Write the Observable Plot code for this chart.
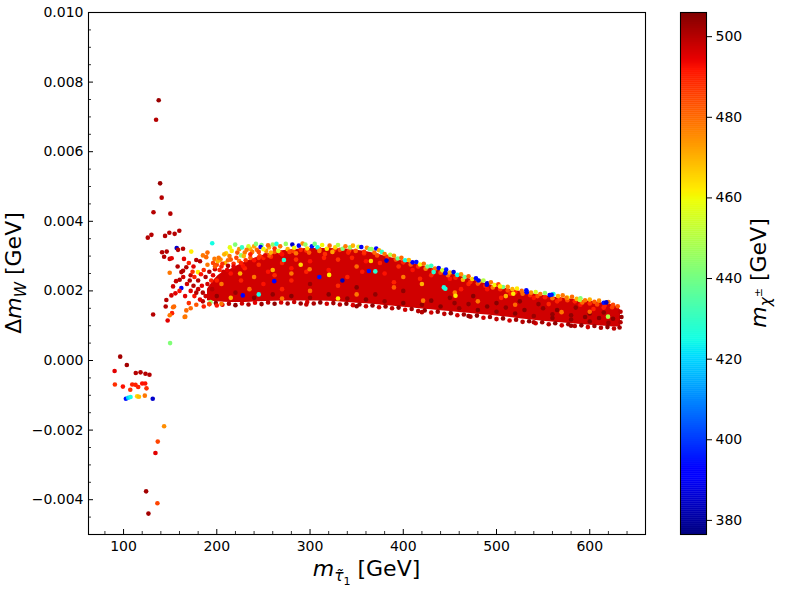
<!DOCTYPE html>
<html>
<head>
<meta charset="utf-8">
<script src="https://cdn.jsdelivr.net/npm/d3@7"></script>
<script src="https://cdn.jsdelivr.net/npm/@observablehq/plot@0.6"></script>
<style>
  html, body { margin: 0; padding: 0; background: white; }
  #wrap { position: relative; width: 800px; height: 600px; overflow: hidden; font-family: "DejaVu Sans", sans-serif; }
  #main { position: absolute; left: 0; top: 0; }
  #cbar { position: absolute; left: 660px; top: 0; }
</style>
</head>
<body>
<div id="wrap"><div id="main"></div><div id="cbar"></div></div>
<script>
// ---- data: [m_stau1 (GeV), Δm_W (1e-3 GeV), m_chi± (GeV)] ----
const leftScatter = [
  [137.7,7.48,503],[134.9,6.92,500],[139.2,5.09,503],[140.9,4.68,500],[132.1,4.26,500],[150.2,4.22,500],
  [126.0,3.53,500],[129.9,3.61,500],[144.5,3.58,500],[149.1,3.67,500],[154.8,3.64,500],[159.8,3.73,500],
  [157.0,3.23,385],[158.4,3.18,500],[163.8,3.21,500],[141.3,3.11,500],[146.3,3.13,500],[143.5,2.98,500],
  [149.5,2.92,497],[151.6,2.94,495],[172.6,3.13,462],[164.8,2.92,495],[149.5,2.52,478],[163.8,2.58,500],
  [160.2,2.32,500],[156.3,2.28,498],[162.0,2.08,390],[153.1,2.13,497],[155.6,1.93,495],[151.3,1.87,497],
  [145.9,1.74,500],[145.2,1.55,500],[154.2,1.55,480],[152.0,1.36,490],[149.5,1.30,478],[131.7,1.32,500],
  [147.3,1.15,495],[166.2,1.26,478],[149.9,0.50,442],
  [185.1,3.02,478],[188.7,2.97,480],[197.5,2.92,478],[213.6,3.00,478],[226.1,3.02,445],[195.1,3.37,425],
  [219.7,3.33,442],[178.0,2.89,500],[182.0,2.85,500],[167.3,2.68,500],[162.0,2.54,500],[179.8,2.54,462],
  [172.0,2.45,498],[193.3,1.68,445],[153.1,1.53,480],[167.3,1.44,480],[165.5,1.25,478],
  [170,2.80,490],[175,2.70,495],[168,2.20,497],[172,2.00,495],[176,1.85,492],[170,1.65,488],[178,1.60,483],
  [182,1.75,495],[185,1.95,500],[180,2.30,500],[186,2.60,488],[190,2.75,478],[175,2.15,500],[166,1.85,495],
  [172,1.50,480],[186,1.55,490],[192,1.62,485],[200,1.58,492],[205,1.63,478],[196,2.45,495],[200,2.75,485],
  [204,2.90,475],[209,2.80,470],[215,2.90,482],[230,3.10,478],[236,3.20,470],[190,2.20,497],[195,2.05,500],
  [180,2.05,498],[188,2.40,500],[184,2.15,495],[178,1.95,500],[183,2.48,492],[192,2.55,500],[194,2.30,490],
  [198,2.62,497],[205,2.70,490],[211,2.60,495],[218,2.78,488],[224,2.86,478],[228,2.72,492],[176,2.40,490],
  [171,2.30,500],[188,1.85,497],[160,2.00,492],[164,2.40,497],[158,2.70,500],[174,2.55,488],[201,2.85,470],
  [222,3.10,482],[210,3.08,465],[190,3.10,480],
  [198,2.70,482],[202,2.95,478],[206,2.78,488],[208,3.05,470],[212,2.88,480],[216,3.15,462],[218,2.70,495],
  [221,2.95,485],[224,3.20,475],[226,2.80,490],[229,3.00,470],[231,2.88,488],[234,3.28,455],[236,2.95,482],
  [238,3.12,478],[240,2.88,492],[243,3.18,480],[246,3.00,485],[248,3.32,440],[250,2.95,490],[253,3.15,475],
  [256,3.25,470],[258,2.98,488],[262,3.12,482],[212,2.72,500],[207,2.55,497],[203,2.60,490],[196,2.80,485],
  [214,3.25,458],[227,3.25,430]
];
const negScatter = [
  [96.4,0.11,502],[103.5,-0.13,502],[90.4,-0.30,495],[113.1,-0.36,500],[118.2,-0.34,500],[123.5,-0.38,500],
  [127.8,-0.41,500],[90.7,-0.69,488],[99.3,-0.75,492],[109.3,-0.69,490],[112.8,-0.70,490],[115.7,-0.76,490],
  [120.0,-0.66,492],[123.2,-0.66,492],[107.2,-0.84,488],[124.6,-0.80,488],[102.5,-1.10,395],[105.0,-1.07,420],
  [107.5,-1.05,425],[114.6,-1.03,465],[116.5,-1.04,468],[122.8,-1.01,478],[131.3,-1.10,385],[143.5,-1.89,475],
  [136.7,-2.33,485],[134.2,-2.66,495],[124.2,-3.76,502],[136.3,-4.10,485],[126.7,-4.40,502]
];
// dense band outline: m_stau1, lower and upper Δm_W (1e-3 GeV)
const bandX    = [190,200,215,230,245,260,280,300,320,340,360,380,400,420,440,460,480,500,525,550,575,600,620,630,633];
const bandLow  = [1.72,1.69,1.67,1.67,1.69,1.70,1.71,1.71,1.70,1.67,1.63,1.58,1.53,1.48,1.43,1.38,1.33,1.28,1.20,1.13,1.07,1.01,0.98,0.96,0.98];
const bandHigh = [2.05,2.40,2.62,2.82,2.98,3.10,3.18,3.22,3.22,3.20,3.13,3.00,2.85,2.72,2.58,2.43,2.28,2.13,1.99,1.87,1.78,1.70,1.62,1.54,1.45];
const bandBottom = [
  [185,1.70,500],[192,1.62,497],[199,1.65,503],[206,1.60,495],[213,1.63,500],[220,1.59,504],[227,1.64,497],
  [234,1.61,501],[241,1.66,495],[248,1.62,503],[255,1.67,499],[262,1.63,504],[269,1.67,496],[276,1.64,502],
  [283,1.68,498],[290,1.64,503],[297,1.68,496],[304,1.64,501],[311,1.67,504],[318,1.63,497],[325,1.65,502],
  [332,1.61,499],[339,1.63,504],[346,1.59,496],[353,1.61,502],[360,1.56,498],[367,1.58,504],[374,1.53,497],
  [381,1.55,502],[388,1.50,499],[395,1.52,504],[402,1.46,497],[409,1.48,502],[416,1.42,500],[423,1.44,504],
  [430,1.38,497],[437,1.40,502],[444,1.34,499],[451,1.36,504],[458,1.30,497],[465,1.32,502],[472,1.26,500],
  [479,1.29,504],[486,1.23,497],[493,1.25,502],[500,1.19,499],[507,1.21,504],[514,1.15,497],[521,1.17,502],
  [528,1.11,500],[535,1.13,504],[542,1.07,497],[549,1.10,502],[556,1.04,500],[563,1.07,504],[570,1.01,497],
  [577,1.04,502],[584,0.99,500],[591,1.01,504],[598,0.96,497],[605,0.99,502],[612,0.94,500],[619,0.96,504],
  [626,0.92,499],[632,0.95,502],[633,1.10,500],[634,1.25,503],[633,1.40,499],[296,1.61,498],[350,1.56,503],
  [420,1.39,500],[470,1.28,503],[540,1.10,500],[580,1.00,503]
];
const bandTop = [
  [232,3.18,478],[236,3.05,490],[240,3.28,472],[242,3.35,442],[245,3.12,485],[247,3.26,390],[250,3.20,460],
  [252,3.02,495],[255,3.31,480],[258,3.10,470],[260,3.33,445],[262,3.22,488],[264,3.35,425],[266,3.15,455],
  [268,3.28,478],[270,3.05,492],[272,2.89,428],[274,3.35,445],[276,3.20,470],[278,3.12,485],[281,3.33,385],
  [283,3.24,460],[285,3.08,478],[288,3.30,390],[290,3.18,490],[292,3.36,475],[295,3.33,445],[297,3.22,465],
  [299,3.10,482],[302,3.28,395],[305,3.35,440],[308,3.25,425],[310,3.15,478],[313,3.32,460],[316,3.06,488],
  [318,3.21,462],[321,3.30,480],[324,3.12,472],[327,3.25,465],[330,3.32,450],[332,3.18,485],[335,3.21,442],
  [338,3.28,478],[341,3.10,490],[343,3.25,445],[346,3.30,470],[349,3.15,482],[352,3.27,455],[355,3.26,390],
  [358,3.12,488],[361,3.24,475],[364,3.20,440],[366,3.20,445],[369,3.10,480],[371,3.22,392],[374,3.17,470],
  [377,3.12,430],[380,3.06,478],[383,2.98,488],[386,3.04,450],
  [390,3.01,475],[394,2.93,440],[398,2.95,480],[402,2.88,425],[406,2.89,470],[410,2.82,390],[414,2.83,395],
  [418,2.76,460],[422,2.78,480],[426,2.70,440],[430,2.72,430],[434,2.64,478],[438,2.66,392],[442,2.59,455],
  [446,2.61,395],[450,2.53,470],[454,2.54,388],[458,2.46,425],[462,2.48,475],[466,2.40,440],[470,2.42,482],
  [474,2.34,465],[478,2.36,393],[482,2.28,470],[486,2.30,450],[490,2.22,387],[494,2.25,478],[498,2.17,460],
  [502,2.19,485],[507,2.11,440],[512,2.12,475],[517,2.05,470],[522,2.07,462],[527,2.00,480],[532,2.02,392],
  [537,1.95,475],[542,1.97,455],[547,1.91,478],[552,1.94,445],[557,1.88,392],[561,1.91,425],[566,1.85,470],
  [571,1.87,478],[576,1.81,460],[581,1.83,480],[586,1.77,470],[590,1.79,442],[595,1.73,478],[600,1.75,470],
  [605,1.69,482],[610,1.72,475],[615,1.66,395],[620,1.68,478],[625,1.60,485],[630,1.56,482]
];
const bandTopInner = [
  [392,2.90,485],[400,2.82,490],[408,2.76,482],[416,2.70,488],[424,2.64,478],[432,2.58,490],[440,2.52,485],
  [448,2.45,480],[456,2.38,490],[464,2.32,470],[472,2.26,488],[480,2.21,483],[488,2.15,490],[496,2.10,478],
  [504,2.05,488],[512,2.01,485],[520,1.96,490],[528,1.92,480],[536,1.88,488],[544,1.85,484],[552,1.82,490],
  [560,1.79,478],[568,1.76,488],[576,1.73,485],[584,1.70,490],[592,1.67,480],[600,1.64,488],[608,1.61,485],
  [616,1.58,490],[624,1.53,486],[245,2.95,488],[256,3.02,482],[268,3.10,490],[282,3.15,485],[296,3.16,488],
  [310,3.20,482],[326,3.18,490],[342,3.16,485],[358,3.08,490],[372,3.02,484]
];
const bandInterior = [
  [200,2.30,490],[215,2.50,492],[230,2.65,490],[245,2.75,488],[255,2.55,492],[270,2.80,490],[285,2.90,488],
  [300,2.85,492],[315,2.95,490],[330,2.90,488],[345,2.95,490],[360,2.85,492],[375,2.80,490],[395,2.70,488],
  [410,2.60,492],[430,2.45,490],[450,2.35,492],[470,2.20,490],[490,2.05,492],[515,1.92,490],[540,1.80,492],
  [565,1.70,490],[590,1.60,492],[615,1.52,490],[250,2.20,492],[280,2.30,490],[320,2.60,492],[340,2.40,490],
  [380,2.50,492],[280,2.65,492],[226,2.30,490],[262,2.45,489],[296,2.55,490],[356,2.55,491],[418,2.35,490],
  [462,2.05,491],[505,1.80,490],[556,1.62,489],[604,1.48,490],[270,2.05,490],[330,2.15,489],[390,2.25,490],
  [200,1.85,504],[220,1.95,503],[240,1.80,505],[260,1.90,504],[280,1.85,505],[300,1.80,503],[320,1.90,505],
  [340,1.78,504],[360,1.75,505],[380,1.70,503],[400,1.65,505],[420,1.60,504],[440,1.55,505],[460,1.50,503],
  [480,1.45,505],[500,1.40,504],[520,1.35,505],[540,1.28,503],[560,1.22,505],[580,1.18,504],[600,1.12,505],
  [620,1.08,503],[450,1.80,504],[500,1.65,505],[550,1.50,504],[600,1.35,505],[400,2.00,504],[350,2.10,505],
  [300,2.20,503],[430,1.72,505],[470,1.62,504],[530,1.45,505],[580,1.30,504],[610,1.22,505],[370,1.90,504],
  [490,1.55,505],[510,1.52,504],[525,1.70,505],[545,1.62,504],[565,1.45,505],[585,1.52,504],[595,1.25,505],
  [615,1.38,504],[625,1.20,505],[560,1.33,504],[475,1.85,505],[455,1.65,504]
];
const bandAccents = [
  [363.1,2.57,395],[370,2.56,428],[334.7,2.30,383],[320.5,2.46,462],[299.6,2.62,478],[365.3,2.86,465],
  [382,2.87,385],[432.6,2.54,428],[445.1,2.51,390],[480.7,2.30,390],[489.6,2.18,388],[503.8,2.13,462],
  [518.0,1.92,462],[532.4,1.96,392],[559.1,1.89,395],[575.1,1.80,478],[589.3,1.74,450],[617.8,1.67,385],
  [619.6,1.26,450],[569.8,1.39,478],[455.3,1.95,478],[421.3,1.72,478],[445.1,2.06,428],[443.5,2.10,425],
  [456,1.86,462],[261.6,2.28,392],[227.9,1.87,392],[245,1.90,425],[260,2.60,470],[280,2.50,478],[300,2.00,480],
  [310,2.40,395],[240,2.40,478],[225,2.50,470],[290,2.75,465],[350,2.70,480],[400,2.40,478],[390,2.10,482],
  [350,1.90,478],[330,1.78,462],[270,1.78,478],[215,1.80,470],[235,2.05,480],[205,2.20,478],[520,1.60,480],
  [480,1.70,478],[600,1.40,480],[420,2.20,470],[510,1.85,470]
];
const xTicks = [100,200,300,400,500,600];
const xMinor = [80,120,140,160,180,220,240,260,280,320,340,360,380,420,440,460,480,520,540,560,580,620,640];
const yTicks = [-0.004,-0.002,0.000,0.002,0.004,0.006,0.008,0.010];
const yMinor = [-0.0045,-0.0035,-0.003,-0.0025,-0.0015,-0.001,-0.0005,0.0005,0.001,0.0015,0.0025,0.003,0.0035,
                0.0045,0.005,0.0055,0.0065,0.007,0.0075,0.0085,0.009,0.0095];
const cTicks = [380,400,420,440,460,480,500];
const cDomain = [376.5, 506];

// matplotlib "jet" colormap
const jetR = [[0,0],[0.35,0],[0.66,1],[0.89,1],[1,0.5]];
const jetG = [[0,0],[0.125,0],[0.375,1],[0.64,1],[0.91,0],[1,0]];
const jetB = [[0,0.5],[0.11,1],[0.34,1],[0.65,0],[1,0]];
function seg(p, t) {
  for (let i = 1; i < p.length; i++) {
    if (t <= p[i][0]) { const [x0,y0] = p[i-1], [x1,y1] = p[i]; return y0 + (y1-y0)*(t-x0)/(x1-x0); }
  }
  return p[p.length-1][1];
}
function jet(t) {
  t = Math.max(0, Math.min(1, t));
  return `rgb(${Math.round(255*seg(jetR,t))},${Math.round(255*seg(jetG,t))},${Math.round(255*seg(jetB,t))})`;
}
const colorScale = {type: "linear", domain: cDomain, interpolate: jet};

const band = bandX.map((x, i) => ({x, lo: bandLow[i], hi: bandHigh[i]}));
const R = 2.3;
const dotOpts = {x: d => d[0], y: d => d[1] * 1e-3, fill: d => d[2], r: R};

const W = 660, H = 600, ML = 88, MR = 15, MT = 12, MB = 66;
const innerW = W - ML - MR, innerH = H - MT - MB;

const main = Plot.plot({
  width: W, height: H, marginLeft: ML, marginRight: MR, marginTop: MT, marginBottom: MB,
  x: {domain: [62.4, 659.8]},
  y: {domain: [-0.005, 0.010]},
  color: colorScale,
  style: {fontFamily: "DejaVu Sans", fontSize: "14px", background: "white", color: "black"},
  marks: [
    Plot.areaY(band, {x: "x", y1: d => d.lo * 1e-3, y2: d => d.hi * 1e-3, fill: 497, curve: "monotone-x"}),
    Plot.dot(bandInterior, dotOpts),
    Plot.dot(bandBottom, dotOpts),
    Plot.dot(leftScatter, dotOpts),
    Plot.dot(negScatter, dotOpts),
    Plot.dot(bandTopInner, dotOpts),
    Plot.dot(bandTop, dotOpts),
    Plot.dot(bandAccents, dotOpts),
    Plot.tickX(xTicks, {x: d => d, insetTop: innerH - 5, stroke: "black", strokeWidth: 1}),
    Plot.tickX(xMinor, {x: d => d, insetTop: innerH - 3, stroke: "black", strokeWidth: 0.8}),
    Plot.tickY(yTicks, {y: d => d, insetRight: innerW - 5, stroke: "black", strokeWidth: 1}),
    Plot.tickY(yMinor, {y: d => d, insetRight: innerW - 3, stroke: "black", strokeWidth: 0.8}),
    Plot.axisX({ticks: xTicks, tickSize: 0, tickPadding: 7, label: null, fontSize: 14}),
    Plot.axisY({ticks: yTicks, tickSize: 0, tickPadding: 5, label: null, fontSize: 14, tickFormat: d3.format(".3f")}),
    Plot.frame({stroke: "black", strokeWidth: 1.1})
  ]
});
document.getElementById("main").appendChild(main);

const slices = d3.range(cDomain[0], cDomain[1], 0.5);
const cbar = Plot.plot({
  width: 140, height: H, marginLeft: 20, marginRight: 94, marginTop: MT, marginBottom: MB,
  x: {domain: [0, 1], axis: null},
  y: {domain: cDomain},
  color: colorScale,
  style: {fontFamily: "DejaVu Sans", fontSize: "14px", background: "white", color: "black"},
  marks: [
    Plot.rect(slices, {x1: 0, x2: 1, y1: d => d, y2: d => Math.min(d + 0.6, cDomain[1]), fill: d => d + 0.25}),
    Plot.axisY({anchor: "right", ticks: cTicks, tickSize: 5, tickPadding: 4, label: null, fontSize: 14}),
    Plot.frame({stroke: "black", strokeWidth: 1.1})
  ]
});
document.getElementById("cbar").appendChild(cbar);

// axis titles with math formatting
const FS = 22;
function addText(svg, x, y, rotate, parts) {
  const t = d3.select(svg).append("text")
    .attr("transform", `translate(${x},${y})` + (rotate ? ` rotate(${rotate})` : ""))
    .attr("text-anchor", "middle")
    .attr("font-family", "DejaVu Sans")
    .attr("font-size", FS)
    .attr("fill", "black");
  let cur = 0;
  for (const p of parts) {
    const s = t.append("tspan").text(p.t);
    const shift = (p.dy || 0);
    s.attr("dy", (shift - cur) + "px");
    cur = shift;
    if (p.i) s.attr("font-style", "italic");
    if (p.s) s.attr("font-size", FS * p.s);
  }
}
addText(main, 21, MT + innerH / 2, -90, [
  {t: "Δ"}, {t: "m", i: true}, {t: "W", i: true, s: 0.7, dy: 5}, {t: " [GeV]", dy: 0}
]);
addText(main, ML + innerW / 2, 576, 0, [
  {t: "m", i: true}, {t: "τ̃", i: true, s: 0.7, dy: 5}, {t: "1", s: 0.5, dy: 9}, {t: " [GeV]", dy: 0}
]);
addText(cbar, 106, MT + innerH / 2, -90, [
  {t: "m", i: true}, {t: "χ", i: true, s: 0.7, dy: 5}, {t: "±", s: 0.5, dy: -4}, {t: " [GeV]", dy: 0}
]);
</script>
</body>
</html>
